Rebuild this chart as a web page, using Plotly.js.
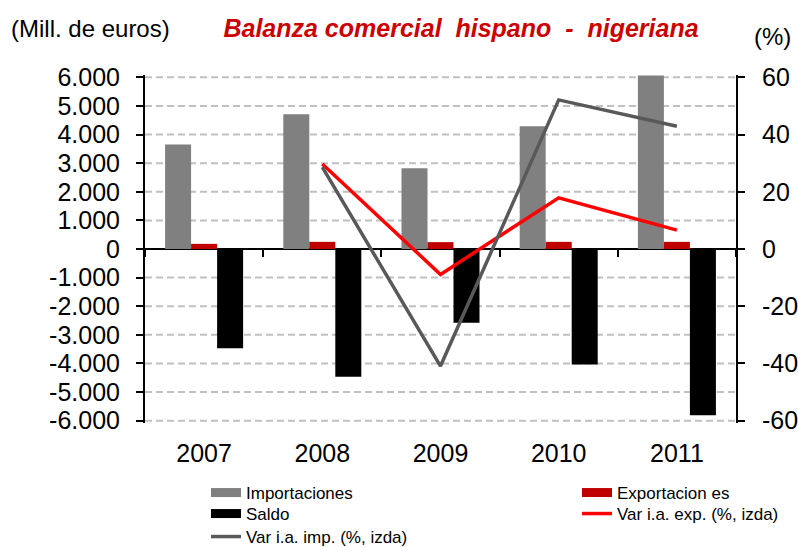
<!DOCTYPE html>
<html>
<head>
<meta charset="utf-8">
<script src="https://cdn.plot.ly/plotly-3.0.1.min.js"></script>
<style>html,body{margin:0;padding:0;background:#fff;}#chart{width:798px;height:547px;}</style>
</head>
<body>
<div id="chart"></div>
<script>
const years = ['2007', '2008', '2009', '2010', '2011'];
const importaciones = [3650, 4710, 2820, 4290, 6060];
const exportaciones = [180, 250, 240, 250, 250];
const saldo = [-3470, -4460, -2580, -4040, -5810];
const varExp = [null, 29.7, -8.9, 17.9, 6.6];
const varImp = [null, 28.6, -40.9, 52.1, 42.9];
const leftTicks = [6000, 5000, 4000, 3000, 2000, 1000, 0, -1000, -2000, -3000, -4000, -5000, -6000];
const leftTickText = ['6.000', '5.000', '4.000', '3.000', '2.000', '1.000', '0', '-1.000', '-2.000', '-3.000', '-4.000', '-5.000', '-6.000'];
const rightTicks = [60, 40, 20, 0, -20, -40, -60];
const rightTickText = ['60', '40', '20', '0', '-20', '-40', '-60'];

const FONT = 'Liberation Sans, Arial, sans-serif';

const traces = [
  {type: 'bar', name: 'Importaciones', x: years, y: importaciones, marker: {color: '#808080'}, showlegend: false},
  {type: 'bar', name: 'Exportaciones', x: years, y: exportaciones, marker: {color: '#c00000'}, showlegend: false},
  {type: 'bar', name: 'Saldo', x: years, y: saldo, marker: {color: '#000000'}, showlegend: false},
  {type: 'scatter', mode: 'lines', name: 'Var i.a. exp. (%, izda)', x: years, y: varExp, xaxis: 'x2', yaxis: 'y2', line: {color: '#ff0000', width: 3.5}, showlegend: false},
  {type: 'scatter', mode: 'lines', name: 'Var i.a. imp. (%, izda)', x: years, y: varImp, xaxis: 'x2', yaxis: 'y2', line: {color: '#595959', width: 3.5}, showlegend: false},
  // legend entries (one legend per row)
  {type: 'scatter', mode: 'lines', name: 'Importaciones', x: [null], y: [null], line: {color: '#808080', width: 9}, legend: 'legend', legendwidth: 326},
  {type: 'scatter', mode: 'lines', name: 'Exportacion es', x: [null], y: [null], line: {color: '#c00000', width: 9}, legend: 'legend', legendwidth: 120},
  {type: 'scatter', mode: 'lines', name: 'Saldo', x: [null], y: [null], line: {color: '#000000', width: 9}, legend: 'legend2', legendwidth: 326},
  {type: 'scatter', mode: 'lines', name: 'Var i.a. exp. (%, izda)', x: [null], y: [null], line: {color: '#ff0000', width: 3.5}, legend: 'legend2', legendwidth: 170},
  {type: 'scatter', mode: 'lines', name: 'Var i.a. imp. (%, izda)', x: [null], y: [null], line: {color: '#595959', width: 3.5}, legend: 'legend3'}
];

// dashed horizontal gridlines at every left-axis tick (zero is the solid zero line)
const gridShapes = leftTicks.filter(v => v !== 0).map(v => ({
  type: 'line', xref: 'paper', yref: 'y', x0: 0, x1: 1, y0: v, y1: v,
  layer: 'below', line: {color: '#c0c0c0', width: 2, dash: '7px,4px'}
}));

// plot area spans 75..423 px vertically (range padded so the ±6000 gridlines show fully)
const PT = 75, PB = 423, PH = PB - PT;
function legendRow(topPx) {
  return {
    x: (206 - 145) / 591, xanchor: 'left', y: -(topPx - PB) / PH, yanchor: 'top',
    orientation: 'h', font: {family: FONT, size: 17, color: '#000000'},
    bgcolor: 'rgba(0,0,0,0)', borderwidth: 0, itemwidth: 30, traceorder: 'normal'
  };
}

const layout = {
  width: 798, height: 547,
  margin: {l: 145, r: 62, t: PT, b: 547 - PB, pad: 0, autoexpand: false},
  paper_bgcolor: '#ffffff', plot_bgcolor: '#ffffff',
  font: {family: FONT, size: 25, color: '#000000'},
  barmode: 'group', bargap: 0.34, bargroupgap: 0,
  title: {
    text: '<b><i>Balanza comercial  hispano  -  nigeriana</i></b>',
    font: {family: FONT, size: 25, color: '#cc0000'},
    x: 461 / 798, xanchor: 'center', xref: 'container',
    y: 1 - 28 / 547, yanchor: 'middle', yref: 'container'
  },
  xaxis: {
    type: 'category', range: [-0.5, 4.5], showgrid: false, zeroline: false, showline: false,
    ticks: '', ticklabelstandoff: 13, tickfont: {size: 25}, automargin: false
  },
  xaxis2: {
    type: 'category', range: [-0.5, 4.5], overlaying: 'x', anchor: 'free', position: 0.5,
    tickson: 'boundaries', ticks: 'outside', ticklen: 7, tickwidth: 2, tickcolor: '#000000',
    showticklabels: false, showgrid: false, zeroline: false, showline: false, automargin: false
  },
  yaxis: {
    range: [-6080, 6080], tickvals: leftTicks, ticktext: leftTickText,
    showgrid: false,
    zeroline: true, zerolinecolor: '#000000', zerolinewidth: 2,
    showline: true, linecolor: '#000000', linewidth: 2,
    ticks: 'outside', ticklen: 7, tickwidth: 2, tickcolor: '#000000',
    tickfont: {size: 25}, ticklabelstandoff: 11, automargin: false
  },
  yaxis2: {
    range: [-60.8, 60.8], tickvals: rightTicks, ticktext: rightTickText,
    overlaying: 'y', side: 'right', anchor: 'x2',
    showgrid: false, zeroline: false,
    showline: true, linecolor: '#000000', linewidth: 2,
    ticks: 'outside', ticklen: 7, tickwidth: 2, tickcolor: '#000000',
    tickfont: {size: 25}, ticklabelstandoff: 12, automargin: false
  },
  shapes: gridShapes,
  legend: legendRow(475),
  legend2: legendRow(496),
  legend3: legendRow(519),
  annotations: [
    {text: '(Mill. de euros)', xref: 'paper', yref: 'paper', x: (90 - 145) / 591, y: (PB - 28) / PH, xanchor: 'center', yanchor: 'middle', showarrow: false, font: {family: FONT, size: 24, color: '#000000'}},
    {text: '(%)', xref: 'paper', yref: 'paper', x: (772 - 145) / 591, y: (PB - 37) / PH, xanchor: 'center', yanchor: 'middle', showarrow: false, font: {family: FONT, size: 24, color: '#000000'}}
  ]
};

Plotly.newPlot('chart', traces, layout, {displayModeBar: false, staticPlot: true});
</script>
</body>
</html>
